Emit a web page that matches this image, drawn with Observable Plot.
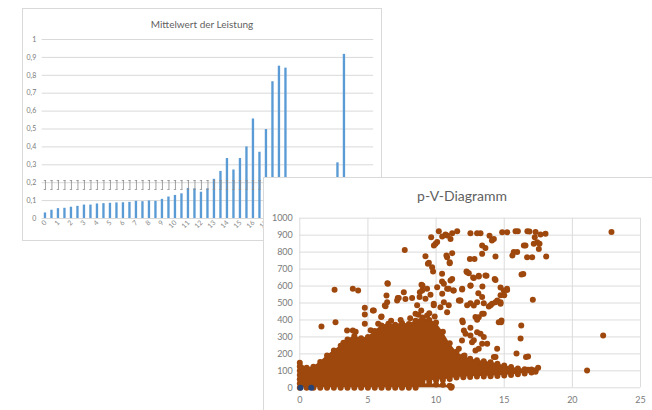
<!DOCTYPE html>
<html><head><meta charset="utf-8">
<script src="https://cdn.jsdelivr.net/npm/d3@7"></script>
<script src="https://cdn.jsdelivr.net/npm/@observablehq/plot@0.6"></script>
<style>
html,body{margin:0;padding:0;background:#fff;overflow:hidden;}
#page{position:relative;width:652px;height:410px;overflow:hidden;background:#fff;font-family:Lato,"Open Sans",sans-serif;}
.box{position:absolute;background:#fff;border:1px solid #d9d9d9;box-sizing:border-box;overflow:hidden;}
.title{position:absolute;left:0;right:0;text-align:center;color:#5f5f5f;white-space:nowrap;}
.box svg{position:absolute;}
</style></head>
<body><div id="page">
<div class="box" id="c1" style="left:22px;top:8px;width:360px;height:233px;">
  <div class="title" style="top:9px;font-size:10px;">Mittelwert der Leistung</div>
</div>
<div class="box" id="c2" style="left:263px;top:177px;width:400px;height:245px;border-right:none;border-bottom:none;">
  <div class="title" style="top:9px;left:0;width:396px;font-size:14px;">p-V-Diagramm</div>
</div>
</div>
<script>
// ---- Chart 1: Mittelwert der Leistung ----
const kategorien = [0,0.5,1,1.5,2,2.5,3,3.5,4,4.5,5,5.5,6,6.5,7,7.5,8,8.5,9,9.5,10,10.5,11,11.5,12,12.5,13,13.5,14,14.5,15,15.5,16,16.5,17,17.5,18,18.5,19,19.5,20,20.5,21,21.5,22,22.5,23,23.5,24,24.5,25];
const leistung = [0.031,0.046,0.055,0.057,0.063,0.068,0.075,0.075,0.081,0.083,0.085,0.087,0.088,0.090,0.096,0.094,0.098,0.096,0.107,0.120,0.129,0.138,0.168,0.166,0.147,0.166,0.219,0.263,0.335,0.271,0.335,0.400,0.556,0.370,0.497,0.764,0.851,0.840,null,null,null,null,null,null,null,0.311,0.917,null,null,null,null];
const fehlerUnten = [0.162,0.162,0.162,0.162,0.162,0.162,0.162,0.162,0.162,0.162,0.162,0.162,0.162,0.162,0.162,0.162,0.162,0.162,0.162,0.162,0.162,0.162,0.162,0.162,0.162,0.162,0.162,0.162,0.162,0.162,0.162,0.162,0.162,0.162,0.162,0.162,0.162,0.162];
const fehlerOben  = [0.212,0.212,0.212,0.212,0.212,0.212,0.212,0.212,0.212,0.212,0.212,0.212,0.212,0.212,0.212,0.212,0.212,0.212,0.212,0.212,0.212,0.212,0.212,0.212,0.212,0.212,0.212,0.212,0.212,0.212,0.212,0.212,0.212,0.212,0.212,0.212,0.212,0.212];
const xBeschriftung1 = [0,1,2,3,4,5,6,7,8,9,10,11,12,13,14,15,16,17,18,19,20,21,22,23,24,25];
const yTicks1 = [0,0.1,0.2,0.3,0.4,0.5,0.6,0.7,0.8,0.9,1];

// ---- Chart 2: p-V-Diagramm ----
const xTicks2 = [0,5,10,15,20,25];
const yTicks2 = [0,100,200,300,400,500,600,700,800,900,1000];
// dichter Kern: x, obere und untere Kante
const kernX     = [0,0.5,1,1.5,2,2.5,3,3.5,4,4.5,5,5.5,6,6.5,7,7.5,8,8.5,9,9.5,10,10.5,11,11.5,12,12.5,13,13.5,14,14.5,15,15.5,16,16.5,17,17.3];
const kernOben  = [148,118,124,152,190,220,248,285,305,292,300,335,368,378,372,382,376,395,415,400,385,330,262,212,186,172,162,156,150,142,132,122,114,110,108,104];
const kernUnten = [0,0,0,0,0,0,0,0,0,0,0,0,0,0,0,0,0,0,40,42,44,46,52,60,62,64,66,67,68,70,72,76,80,85,90,95];
// Streifen am Boden (x 9 bis 11)
const streifenX    = [8.6,9,9.5,10,10.5,11,11.15];
const streifenOben = [24,22,22,20,18,12,6];
// linker Rand bei x = 0
const randX = [0,0,0,0,0];
const randY = [25,50,75,100,125];
// einzelne Punkte
const punkteX = [22.87,22.26,21.08,7.70,2.55,3.89,4.28,1.59,2.62,6.43,6.36,7.63,7.19,6.41,6.24,7.75,8.24,4.77,5.36,4.77,6.0,4.77,3.47,3.89,5.75,5.43,5.97,6.46,6.29,7.26,7.14,8.93,8.98,9.34,9.59,8.79,9.22,8.61,8.91,8.49,9.83,10.57,10.93,11.67,9.22,9.47,9.71,9.78,10.81,11.0,10.44,10.44,11.18,12.23,10.08,10.93,11.3,11.91,9.0,8.81,10.45,10.57,10.81,9.83,10.32,10.81,9.34,10.2,9.64,10.69,11.18,11.55,11.06,12.52,13.01,13.26,13.92,14.24,14.85,15.22,15.83,16.0,16.7,14.1,9.96,9.84,10.08,10.45,10.81,10.76,11.18,11.0,9.4,12.48,12.82,13.38,14.36,13.62,15.7,15.6,13.38,16.4,12.28,12.72,12.52,13.13,13.7,14.3,14.73,15.22,11.06,11.26,11.92,11.74,12.28,13.01,13.38,14.0,14.49,14.73,12.89,13.38,14.6,11.92,12.04,12.52,12.77,13.26,13.38,14.8,16.25,16.2,15.9,16.6,17.1,16.75,17.49,16.75,18.08,17.05,16.68,17.54,16.85,17.3,17.66,18.03,17.24,17.42,17.59,17.17,16.56,15.95,16.44,16.07,16.9,16.27,14.77,15.21,14.73,14.73,14.36,13.62,13.13,12.77,12.4,13.4,13.1,12.53,11.79,12.52,12.77,13.5,13.87,14.11,14.36,13.5,13.13,13.01,11.96,12.52,13.01,13.5,13.75,12.64,11.9,11.67,12.89,13.13,14.36,12.16,12.08,14.48,14.24,11.1,14.97,15.0,5.2,6.7,7.4,8.1,8.7,9.5,9.9,4.1,3.2];
const punkteY = [918,308,102,813,578,584,574,361,387,617,544,563,530,505,485,524,530,472,456,432,420,378,338,338,378,456,417,613,481,529,515,607,574,584,548,535,525,486,456,437,486,505,486,515,776,737,711,686,770,741,672,627,642,686,593,584,574,580,603,564,554,613,584,495,475,446,426,923,888,904,911,923,878,911,911,911,897,878,917,917,923,923,923,868,849,839,860,892,898,780,794,735,731,760,760,790,774,825,800,780,839,671,681,651,602,661,661,641,592,577,633,574,584,515,486,505,535,486,515,495,417,437,387,397,338,309,280,319,260,397,368,290,202,182,519,185,118,106,774,770,770,819,922,918,904,908,888,858,849,849,839,800,839,102,102,668,387,584,545,505,636,662,656,648,676,597,558,603,515,499,485,499,479,495,505,436,416,401,387,354,328,299,260,269,279,230,220,230,181,318,191,230,181,0,574,545,340,395,400,410,430,440,420,330,265];
const blauX = [0.05,0.84];
const blauY = [0,0];

const braun = "#9E480E", blau = "#264478", balken = "#5B9BD5";

// chart 1
const balkenDaten = kategorien.map((k,i)=>({k, v: leistung[i]})).filter(d=>d.v!=null);
const fehlerDaten = fehlerUnten.map((u,i)=>({k: kategorien[i], u, o: fehlerOben[i]}));
const c1 = Plot.plot({
  width: 358, height: 209,
  marginLeft: 18.7, marginRight: 7.8, marginTop: 8, marginBottom: 22,
  x: {type:"band", domain: kategorien, paddingInner: 0.64, paddingOuter: 0.32, round: false, axis: null, label: null},
  y: {domain:[0,1], axis: null, label: null},
  style: {fontFamily:"Lato, 'Open Sans', sans-serif", fontSize:"7px", color:"#7a7a7a", background:"transparent", overflow:"visible"},
  marks: [
    Plot.gridY(yTicks1, {stroke:"#d9d9d9", strokeOpacity:1}),
    Plot.axisY(yTicks1, {tickSize:0, tickPadding:6, label: null, tickFormat: d => String(d).replace(".", ","), fill:"#7a7a7a"}),
    Plot.barY(balkenDaten, {x:"k", y:"v", fill: balken}),
    Plot.ruleX(fehlerDaten, {x:"k", y1:"u", y2:"o", stroke:"#8c8c8c", strokeWidth:0.8}),
    Plot.tickY(fehlerDaten, {x:"k", y:"u", stroke:"#8c8c8c", strokeWidth:0.8}),
    Plot.tickY(fehlerDaten, {x:"k", y:"o", stroke:"#8c8c8c", strokeWidth:0.8}),
    Plot.axisX(xBeschriftung1, {tickRotate:-45, tickSize:0, tickPadding:3, label: null, tickFormat: d => String(d), fill:"#8a8a8a"})
  ]
});
c1.style.left = "0px"; c1.style.top = "22px";
document.getElementById("c1").appendChild(c1);

// chart 2
const kern = kernX.map((x,i)=>({x, o: kernOben[i], u: kernUnten[i]}));
const streifen = streifenX.map((x,i)=>({x, o: streifenOben[i]}));
const rand = randX.map((x,i)=>({x, y: randY[i]}));
const punkte = punkteX.map((x,i)=>({x, y: punkteY[i]}));
const blaue = blauX.map((x,i)=>({x, y: blauY[i]}));
const c2 = Plot.plot({
  width: 388, height: 232,
  marginLeft: 35.3, marginRight: 12, marginTop: 39.7, marginBottom: 22.7,
  x: {domain:[0,25], axis: null, label: null},
  y: {domain:[0,1000], axis: null, label: null},
  style: {fontFamily:"Lato, 'Open Sans', sans-serif", fontSize:"9px", color:"#7a7a7a", background:"transparent", overflow:"visible"},
  marks: [
    Plot.gridX(xTicks2, {stroke:"#dcdcdc", strokeOpacity:1}),
    Plot.gridY(yTicks2, {stroke:"#dcdcdc", strokeOpacity:1}),
    Plot.axisX(xTicks2, {tickSize:0, tickPadding:9, label: null, tickFormat: d => String(d), fill:"#7a7a7a"}),
    Plot.axisY(yTicks2, {tickSize:0, tickPadding:7, label: null, tickFormat: d => String(d), fill:"#7a7a7a"}),
    Plot.areaY(kern, {x:"x", y1:"u", y2:"o", fill: braun}),
    Plot.areaY(streifen, {x:"x", y:"o", fill: braun}),
    Plot.dot(kern, {x:"x", y:"o", r:3, fill: braun}),
    Plot.dot(kern, {x:"x", y:"u", r:3, fill: braun}),
    Plot.dot(streifen, {x:"x", y:"o", r:3, fill: braun}),
    Plot.dot(rand, {x:"x", y:"y", r:3, fill: braun}),
    Plot.dot(punkte, {x:"x", y:"y", r:3, fill: braun}),
    Plot.dot(blaue, {x:"x", y:"y", r:3, fill: blau})
  ]
});
c2.style.left = "0px"; c2.style.top = "0px";
document.getElementById("c2").appendChild(c2);
</script>
</body></html>
